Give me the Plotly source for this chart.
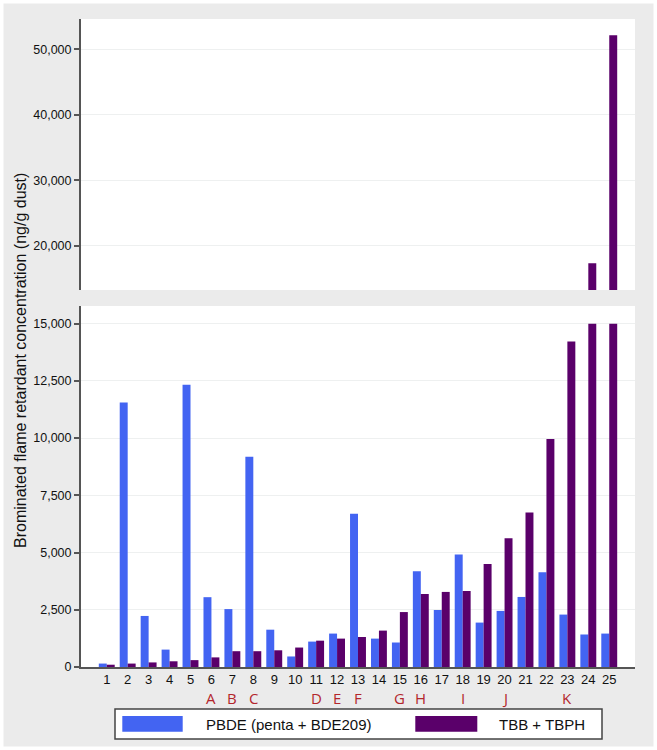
import plotly.graph_objects as go

# ---- data ----
samples = list(range(1, 26))
pbde = [150, 11550, 2230, 760, 12330, 3050, 2530, 9190, 1630, 460,
        1110, 1460, 6700, 1240, 1070, 4180, 2490, 4910, 1940, 2450,
        3060, 4140, 2290, 1420, 1460]
tbb_tbph = [100, 150, 200, 250, 300, 420, 690, 690, 730, 850,
            1150, 1240, 1310, 1590, 2400, 3190, 3280, 3320, 4500, 5620,
            6750, 9960, 14220, 17370, 52130]
letter_samples = [6, 7, 8, 11, 12, 13, 15, 16, 18, 20, 23]
letter_labels = ["A", "B", "C", "D", "E", "F", "G", "H", "I", "J", "K"]
series_names = ["PBDE (penta + BDE209)", "TBB + TBPH"]
lower_ticks = [0, 2500, 5000, 7500, 10000, 12500, 15000]
upper_ticks = [20000, 30000, 40000, 50000]
BREAK = 15000

BLUE = "#4364f2"
PURPLE = "#5a006a"
GRAY_BG = "#ebebeb"
GRID = "#eef0f0"
AXIS = "#555555"
FONT = "Liberation Sans, Arial, sans-serif"

# ---- geometry (pixels) ----
W, H = 657, 750
ML, MR, MT, MB = 81, 22, 19, 83
PW = W - ML - MR
PH = H - MT - MB


def px_x(p):
    return (p - ML) / PW


def px_y(p):
    return (H - MB - p) / PH


def lower(vals):
    return [min(v, BREAK) for v in vals]


def upper(vals):
    return [v if v > BREAK else None for v in vals]


fig = go.Figure()
colors = [BLUE, PURPLE]
for name, vals, col in zip(series_names, [pbde, tbb_tbph], colors):
    fig.add_trace(go.Bar(x=samples, y=lower(vals), name=name, marker_color=col,
                         marker_line_width=0, xaxis="x", yaxis="y",
                         offsetgroup=name, showlegend=False))
    fig.add_trace(go.Bar(x=samples, y=upper(vals), name=name, marker_color=col,
                         marker_line_width=0, xaxis="x2", yaxis="y2",
                         offsetgroup=name, showlegend=False))

xr = [-0.23, 26.23]
fig.update_layout(
    width=W, height=H,
    margin=dict(l=ML, r=MR, t=MT, b=MB, pad=0),
    paper_bgcolor=GRAY_BG, plot_bgcolor="white",
    barmode="group", bargap=0.24, bargroupgap=0,
    font=dict(family=FONT, size=13, color="#111111"),
    separators=".,",
    xaxis=dict(domain=[0, 1], range=xr, tickvals=samples, ticktext=[str(s) for s in samples],
               showgrid=False, zeroline=False, showline=True, linecolor=AXIS, linewidth=1.5,
               ticks="", tickfont=dict(size=13, color="#111111"), anchor="y", fixedrange=True),
    yaxis=dict(domain=[0, px_y(306)], range=[0, 15770], tickvals=lower_ticks,
               tickformat=",", showgrid=True, gridcolor=GRID, gridwidth=1, zeroline=False,
               showline=True, linecolor=AXIS, linewidth=2, ticks="outside", ticklen=5,
               tickcolor=AXIS, tickwidth=1.5, tickfont=dict(size=12.5, color="#111111"),
               anchor="x"),
    xaxis2=dict(domain=[0, 1], range=xr, matches="x", showticklabels=False, showgrid=False,
                zeroline=False, showline=False, ticks="", anchor="y2"),
    yaxis2=dict(domain=[px_y(290), 1], range=[13290, 54600], tickvals=upper_ticks,
                tickformat=",", showgrid=True, gridcolor=GRID, gridwidth=1, zeroline=False,
                showline=True, linecolor=AXIS, linewidth=2, ticks="outside", ticklen=5,
                tickcolor=AXIS, tickwidth=1.5, tickfont=dict(size=12.5, color="#111111"),
                anchor="x2"),
)

shapes = []
# white outer frame
shapes.append(dict(type="rect", xref="paper", yref="paper",
                   x0=px_x(0), x1=px_x(W), y0=px_y(H), y1=px_y(0),
                   line=dict(color="white", width=7), fillcolor="rgba(0,0,0,0)", layer="above"))
# legend box
shapes.append(dict(type="rect", xref="paper", yref="paper",
                   x0=px_x(115), x1=px_x(602), y0=px_y(739), y1=px_y(709),
                   line=dict(color="#444444", width=1.5), fillcolor="white", layer="above"))
for col, x0, x1 in [(BLUE, 122.3, 182.7), (PURPLE, 415.3, 477.3)]:
    shapes.append(dict(type="rect", xref="paper", yref="paper",
                       x0=px_x(x0), x1=px_x(x1), y0=px_y(731.7), y1=px_y(716),
                       line=dict(width=0), fillcolor=col, layer="above"))
fig.update_layout(shapes=shapes)

annotations = []
for name, xl in zip(series_names, [204, 497]):
    annotations.append(dict(text=name, xref="paper", yref="paper", x=px_x(xl), y=px_y(724),
                            xanchor="left", yanchor="middle", showarrow=False,
                            font=dict(family=FONT, size=15, color="#111111")))
for s, lab in zip(letter_samples, letter_labels):
    annotations.append(dict(text=lab, xref="x", yref="paper", x=s, y=px_y(697.5),
                            xanchor="center", yanchor="middle", showarrow=False,
                            font=dict(family="Open Sans, sans-serif", size=15, color="#b3262b")))
annotations.append(dict(text="Brominated flame retardant concentration (ng/g dust)",
                        xref="paper", yref="paper", x=px_x(20), y=px_y(361),
                        xanchor="center", yanchor="middle", textangle=-90, showarrow=False,
                        font=dict(family=FONT, size=16, color="#111111")))
fig.update_layout(annotations=annotations)

fig.write_html("out.html", config={"displayModeBar": False},
               post_script="document.body.style.margin='0';document.body.style.overflow='hidden';")
